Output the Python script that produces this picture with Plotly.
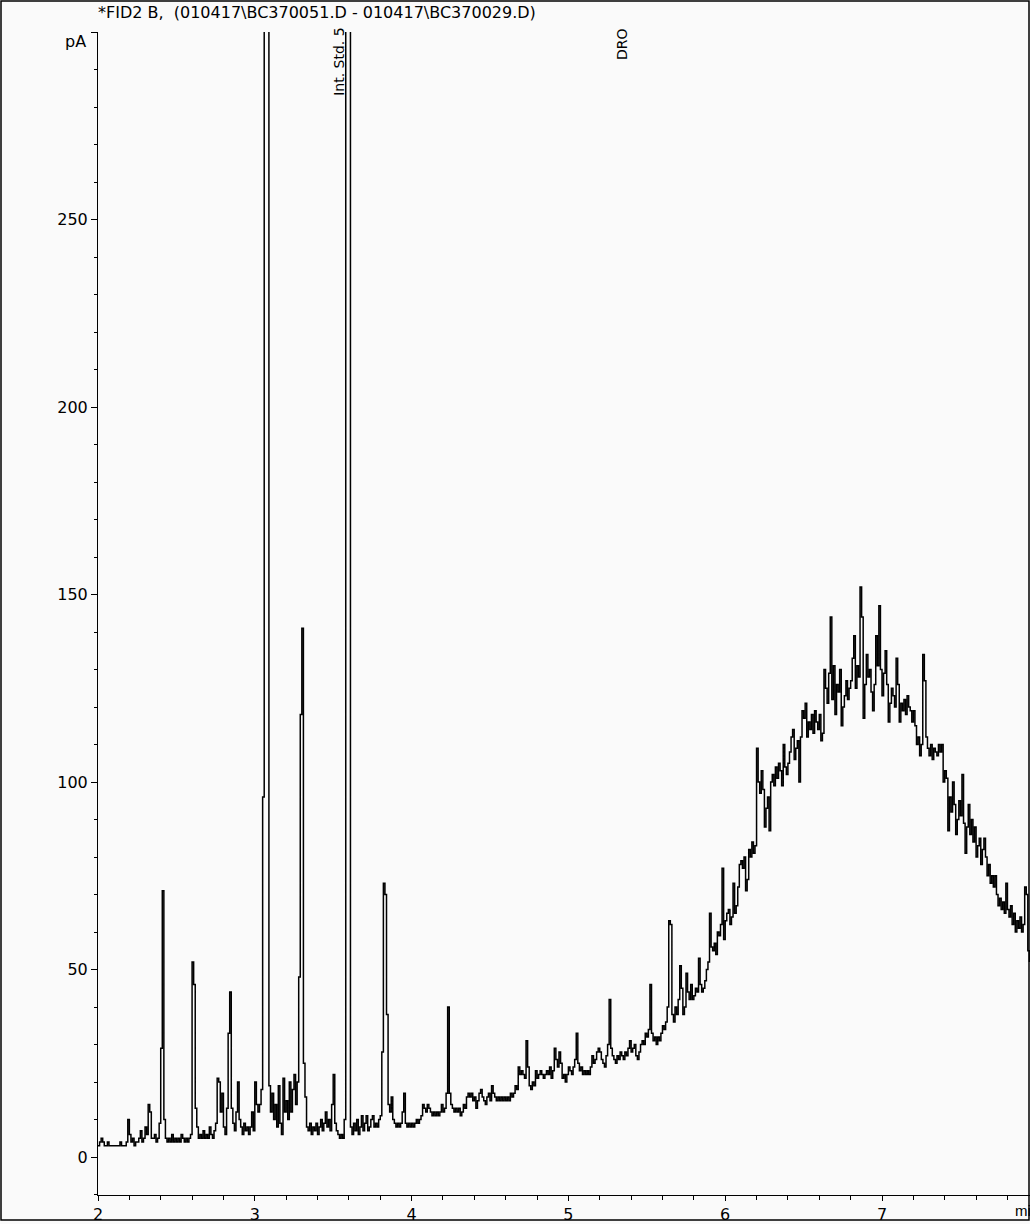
import plotly.graph_objects as go

# ---- data ----
t_start_min = 2.0
t_step_min = 0.01
signal_pA = [
    3, 4, 5, 4, 3, 3, 4, 3, 3, 3,            # 2.0
    3, 3, 3, 3, 4, 3, 3, 3, 4, 10,           # 2.1
    6, 4, 5, 3, 4, 4, 5, 7, 4, 5,            # 2.2
    8, 6, 14, 12, 5, 5, 6, 4, 5, 9,          # 2.3
    29, 71, 10, 5, 4, 5, 4, 6, 4, 5,         # 2.4
    4, 5, 4, 6, 5, 4, 5, 4, 5, 6,            # 2.5
    52, 46, 13, 8, 5, 6, 5, 7, 5, 6,         # 2.6
    5, 8, 6, 5, 7, 9, 21, 20, 12, 17,        # 2.7
    8, 6, 13, 33, 44, 13, 9, 7, 12, 20,      # 2.8
    10, 8, 6, 9, 7, 8, 6, 8, 12, 7,          # 2.9
    20, 14, 12, 14, 18, 96, 900, 900, 900, 19,   # 3.0
    12, 17, 10, 14, 8, 19, 9, 6, 21, 12,     # 3.1
    15, 10, 20, 12, 18, 22, 14, 20, 48, 118, # 3.2
    141, 25, 16, 8, 7, 9, 6, 8, 7, 9,        # 3.3
    6, 8, 10, 7, 9, 12, 8, 10, 7, 14,        # 3.4
    22, 9, 7, 6, 5, 6, 5, 10, 900, 900,      # 3.5
    900, 8, 6, 9, 7, 10, 6, 8, 11, 7,        # 3.6
    9, 11, 7, 8, 10, 11, 8, 9, 8, 10,        # 3.7
    11, 28, 73, 70, 38, 14, 12, 16, 10, 9,   # 3.8
    8, 9, 8, 9, 12, 17, 9, 8, 9, 8,          # 3.9
    9, 8, 9, 10, 9, 10, 11, 14, 13, 12,      # 4.0
    14, 13, 12, 11, 12, 11, 12, 11, 12, 14,  # 4.1
    12, 13, 17, 40, 17, 14, 13, 12, 13, 12,  # 4.2
    13, 11, 12, 14, 13, 16, 17, 16, 17, 15,  # 4.3
    16, 13, 15, 17, 18, 16, 15, 14, 16, 17,  # 4.4
    15, 19, 17, 16, 15, 16, 15, 16, 15, 16,  # 4.5
    15, 16, 15, 17, 16, 17, 19, 18, 24, 22,  # 4.6
    23, 22, 21, 31, 24, 19, 18, 20, 19, 23,  # 4.7
    21, 22, 23, 22, 21, 22, 23, 22, 24, 21,  # 4.8
    23, 29, 26, 24, 28, 25, 21, 22, 20, 22,  # 4.9
    24, 23, 22, 24, 26, 33, 25, 23, 24, 22,  # 5.0
    23, 22, 23, 22, 24, 27, 25, 26, 28, 29,  # 5.1
    28, 26, 25, 24, 27, 30, 42, 29, 27, 26,  # 5.2
    25, 27, 26, 28, 27, 26, 28, 27, 29, 31,  # 5.3
    28, 29, 30, 27, 26, 28, 30, 31, 30, 33,  # 5.4
    32, 34, 46, 33, 31, 32, 30, 32, 31, 33,  # 5.5
    35, 34, 36, 40, 63, 62, 38, 36, 40, 38,  # 5.6
    42, 51, 45, 38, 40, 49, 44, 42, 46, 42,  # 5.7
    43, 45, 44, 53, 46, 44, 45, 47, 50, 52,  # 5.8
    65, 56, 55, 57, 54, 60, 59, 62, 77, 58,  # 5.9
    63, 65, 66, 62, 64, 73, 65, 67, 72, 78,  # 6.0
    79, 77, 80, 71, 74, 82, 80, 84, 81, 83,  # 6.1
    109, 100, 97, 103, 98, 88, 93, 96, 87, 100,    # 6.2
    102, 99, 104, 101, 105, 103, 99, 110, 104, 102, # 6.3
    105, 108, 112, 114, 106, 109, 111, 100, 112, 119, # 6.4
    117, 121, 112, 116, 114, 118, 113, 119, 116, 114, # 6.5
    118, 111, 113, 130, 125, 121, 129, 144, 122, 131, # 6.6
    118, 126, 124, 130, 115, 120, 123, 127, 122, 125, # 6.7
    127, 133, 139, 125, 131, 128, 152, 144, 117, 126, # 6.8
    134, 128, 130, 124, 119, 126, 139, 131, 147, 130, # 6.9
    123, 129, 135, 126, 116, 121, 125, 123, 120, 133, # 7.0
    126, 116, 121, 119, 122, 118, 123, 120, 119, 116, # 7.1
    119, 115, 110, 112, 107, 110, 134, 127, 112, 109, # 7.2
    107, 110, 106, 109, 108, 107, 110, 108, 110, 100, # 7.3
    103, 101, 87, 96, 92, 100, 94, 86, 90, 95,        # 7.4
    91, 102, 89, 81, 88, 94, 86, 90, 84, 88,          # 7.5
    80, 83, 85, 78, 82, 85, 80, 75, 78, 73,           # 7.6
    75, 72, 75, 70, 67, 69, 66, 68, 65, 73,           # 7.7
    66, 64, 67, 62, 65, 60, 63, 61, 64, 60,           # 7.8
    62, 72, 70, 55, 52,                               # 7.9
]
times_min = [round(t_start_min + i * t_step_min, 2) for i in range(len(signal_pA))]

x_ticks = [2, 3, 4, 5, 6, 7]
y_ticks = [0, 50, 100, 150, 200, 250, 300]
y_ticktext = ["0", "50", "100", "150", "200", "250", ""]

title_text = "*FID2 B,  (010417\\BC370051.D - 010417\\BC370029.D)"
peak_labels = [("Int. Std. 5", 3.537), ("DRO", 5.342)]

# ---- geometry ----
W, H = 1030, 1224
L, R, T, B = 98, 0, 32, 26
PW, PH = W - L - R, H - T - B


def px(xp):
    return (xp - L) / PW


def py(yp):
    return (H - B - yp) / PH


FONT = "DejaVu Sans"
BG = "#fafafa"

fig = go.Figure()
fig.add_trace(go.Scatter(
    x=times_min, y=signal_pA, mode="lines",
    line=dict(color="black", width=1.5, shape="hv"),
    hoverinfo="skip", showlegend=False,
))

fig.update_layout(
    width=W, height=H,
    margin=dict(l=L, r=R, t=T, b=B, pad=0),
    paper_bgcolor=BG, plot_bgcolor=BG,
    font=dict(family=FONT, size=16, color="black"),
    xaxis=dict(
        range=[2, 2 + PW / 156.8], tickvals=x_ticks,
        showline=True, linecolor="black", linewidth=1,
        ticks="outside", ticklen=5, tickwidth=1, tickcolor="black",
        minor=dict(tickmode="linear", tick0=2, dtick=0.2, ticks="outside",
                   ticklen=4, tickcolor="black", showgrid=False),
        showgrid=False, zeroline=False,
        tickfont=dict(family=FONT, size=16, color="black"),
    ),
    yaxis=dict(
        range=[-10.1, 300], tickvals=y_ticks, ticktext=y_ticktext,
        showline=True, linecolor="black", linewidth=1,
        ticks="outside", ticklen=6, tickwidth=1, tickcolor="black",
        minor=dict(tickmode="linear", tick0=0, dtick=10, ticks="outside",
                   ticklen=3, tickcolor="black", showgrid=False),
        showgrid=False, zeroline=False,
        tickfont=dict(family=FONT, size=16, color="black"),
    ),
)

annotations = [
    dict(text=title_text, xref="paper", yref="paper", x=px(96), y=py(12),
         xanchor="left", yanchor="middle", showarrow=False,
         font=dict(family=FONT, size=16, color="black")),
    dict(text="pA", xref="paper", yref="paper", x=px(88), y=py(42),
         xanchor="right", yanchor="middle", showarrow=False,
         font=dict(family=FONT, size=16, color="black")),
    dict(text="min", xref="paper", yref="paper", x=px(1013), y=py(1214),
         xanchor="left", yanchor="middle", showarrow=False,
         font=dict(family="Liberation Sans", size=15, color="black")),
]
label_bottoms = [98, 62]
for (lab, tpos), yb in zip(peak_labels, label_bottoms):
    annotations.append(dict(
        text=lab, xref="x", yref="paper", x=tpos, y=py(yb),
        xanchor="center", yanchor="bottom", textangle=-90, showarrow=False,
        font=dict(family=FONT, size=14, color="black")))
fig.update_layout(annotations=annotations)

fig.add_shape(type="rect", xref="paper", yref="paper",
              x0=px(1), x1=px(1029), y0=py(1223), y1=py(1),
              line=dict(color="black", width=1.5), fillcolor="rgba(0,0,0,0)")

fig.write_html(
    "out.html",
    config={"displayModeBar": False},
    post_script="document.body.style.margin='0';document.body.style.overflow='hidden';",
)
